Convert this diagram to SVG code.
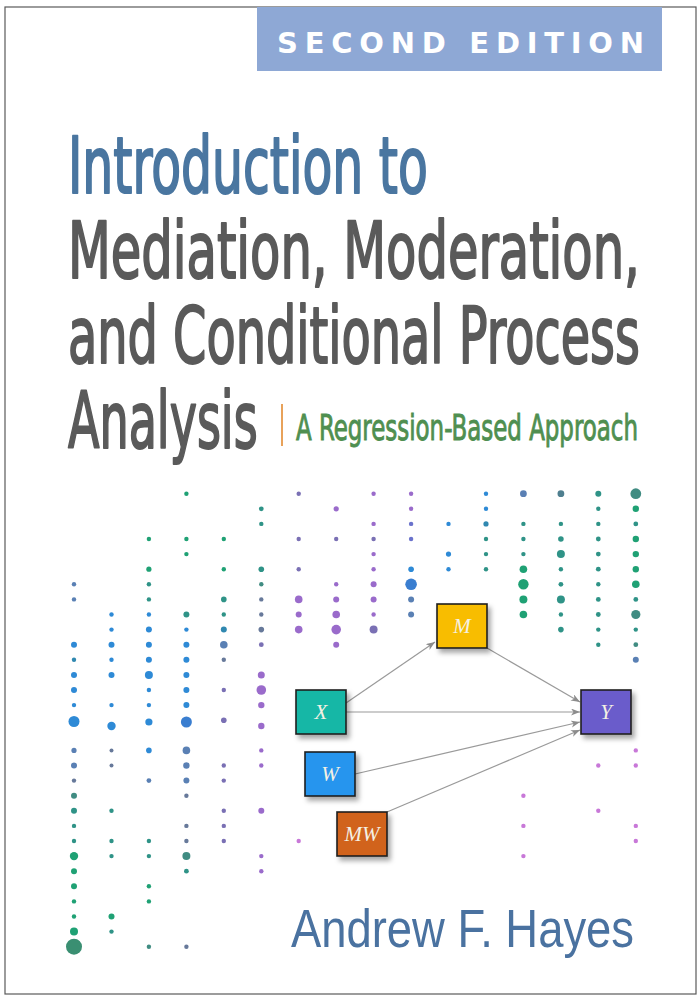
<svg xmlns="http://www.w3.org/2000/svg" width="700" height="999" viewBox="0 0 700 999">
<style>
.ttl{font-family:"DejaVu Sans Condensed","DejaVu Sans",sans-serif;font-stretch:condensed;font-size:79px;stroke-width:2;stroke-linejoin:round;}
.lbl{font-family:"Liberation Serif",serif;font-style:italic;font-size:21px;fill:#f4f1e4;text-anchor:middle;}
.box{stroke:#1e1e1e;stroke-width:1.6;}
.con{stroke:#9a9a9a;stroke-width:1.2;fill:none;marker-end:url(#ah);}
.b{fill:#2e8ad6}.bg{fill:#5a80b4}.g{fill:#67799a}.t{fill:#2f9387}.tb{fill:#3088b0}.gr{fill:#1fa174}
.tg{fill:#408c82}.p{fill:#9a6bcb}.pg{fill:#7a70b4}.pb{fill:#6a72cc}.pk{fill:#c878d8}
</style>
<defs>
<filter id="sh" x="-20%" y="-20%" width="150%" height="150%">
<feDropShadow dx="3" dy="4" stdDeviation="2.5" flood-color="#000" flood-opacity="0.35"/>
</filter>
<marker id="ah" markerUnits="userSpaceOnUse" markerWidth="10" markerHeight="8" refX="9" refY="3.5" orient="auto">
<path d="M0,0 L9,3.5 L0,7 L2.5,3.5 z" fill="#8c8c8c"/>
</marker>
</defs>
<rect x="0" y="0" width="700" height="999" fill="#ffffff"/>
<rect x="5" y="7" width="691" height="987" fill="none" stroke="#5a5a5a" stroke-width="1.2"/>
<g id="banner">
<rect x="257" y="7" width="405" height="64" fill="#8ea8d5"/>
<text x="277" y="53" font-family="DejaVu Sans, sans-serif" font-weight="bold" font-size="29" fill="#ffffff" textLength="367" lengthAdjust="spacing">SECOND EDITION</text>
</g>
<g id="title">
<g transform="scale(0.7,1)">
<text class="ttl" x="97.1" y="193" fill="#4a76a0" stroke="#4a76a0" textLength="514" lengthAdjust="spacingAndGlyphs">Introduction to</text>
<text class="ttl" x="97.1" y="278" fill="#5a5a5a" stroke="#5a5a5a" textLength="817" lengthAdjust="spacingAndGlyphs">Mediation, Moderation,</text>
<text class="ttl" x="97.1" y="363" fill="#5a5a5a" stroke="#5a5a5a" textLength="817" lengthAdjust="spacingAndGlyphs">and Conditional Process</text>
<text class="ttl" x="97.1" y="448" fill="#5a5a5a" stroke="#5a5a5a" textLength="271" lengthAdjust="spacingAndGlyphs">Analysis</text>
</g>
<rect x="281" y="404" width="2" height="42" fill="#e8a25a"/>
<g transform="scale(0.72,1)">
<text x="411.1" y="440" font-family="DejaVu Sans Condensed, DejaVu Sans, sans-serif" font-stretch="condensed" font-size="35" fill="#4f8f50" stroke="#4f8f50" stroke-width="0.9" textLength="475" lengthAdjust="spacingAndGlyphs">A Regression-Based Approach</text>
</g>
</g>
<g id="dots">
<circle class="bg" cx="74" cy="584.3" r="2.2"/><circle class="bg" cx="74" cy="599.4" r="2.2"/><circle class="b" cx="74" cy="644.7" r="3"/><circle class="tb" cx="74" cy="659.8" r="2.2"/><circle class="b" cx="74" cy="674.9" r="3"/><circle class="b" cx="74" cy="690" r="3"/><circle class="b" cx="74" cy="705.1" r="2.2"/><circle class="b" cx="74" cy="721.5" r="5.5"/><circle class="bg" cx="74" cy="750.4" r="2.6"/><circle class="bg" cx="74" cy="765.5" r="3"/><circle class="g" cx="74" cy="780.6" r="2.2"/><circle class="tg" cx="74" cy="795.7" r="3"/><circle class="t" cx="74" cy="810.8" r="3"/><circle class="t" cx="74" cy="825.9" r="2.2"/><circle class="t" cx="74" cy="841" r="2.2"/><circle class="gr" cx="74" cy="856.1" r="4.2"/><circle class="gr" cx="74" cy="871.2" r="3"/><circle class="gr" cx="74" cy="886.3" r="3"/><circle class="gr" cx="74" cy="901.4" r="2.2"/><circle class="gr" cx="74" cy="916.5" r="2.2"/><circle class="gr" cx="74" cy="931.6" r="4"/><circle fill="#3a8f72" cx="74" cy="946.7" r="8"/>
<circle class="b" cx="111.5" cy="614.5" r="2.2"/><circle class="b" cx="111.5" cy="629.6" r="2.2"/><circle class="b" cx="111.5" cy="644.7" r="3"/><circle class="b" cx="111.5" cy="659.8" r="2.2"/><circle class="b" cx="111.5" cy="674.9" r="3"/><circle class="b" cx="111.5" cy="705.1" r="2.2"/><circle class="b" cx="111.5" cy="726" r="4.2"/><circle class="g" cx="111.5" cy="750.4" r="2"/><circle class="g" cx="111.5" cy="765.5" r="2"/><circle class="t" cx="111.5" cy="810.8" r="2.2"/><circle class="t" cx="111.5" cy="841" r="2.2"/><circle class="t" cx="111.5" cy="856.1" r="2.2"/><circle class="gr" cx="111.5" cy="916.5" r="3"/><circle class="t" cx="111.5" cy="931.6" r="2.2"/>
<circle class="gr" cx="148.9" cy="539" r="2.2"/><circle class="gr" cx="148.9" cy="569.2" r="2.6"/><circle class="t" cx="148.9" cy="584.3" r="2.2"/><circle class="t" cx="148.9" cy="599.4" r="2.2"/><circle class="b" cx="148.9" cy="614.5" r="2.2"/><circle class="b" cx="148.9" cy="629.6" r="3"/><circle class="b" cx="148.9" cy="644.7" r="3"/><circle class="b" cx="148.9" cy="659.8" r="3"/><circle class="b" cx="148.9" cy="674.9" r="4"/><circle class="b" cx="148.9" cy="690" r="2.2"/><circle class="b" cx="148.9" cy="705.1" r="2.2"/><circle class="b" cx="148.9" cy="722" r="3.6"/><circle class="b" cx="148.9" cy="750.4" r="2.8"/><circle class="bg" cx="148.9" cy="780.6" r="2.4"/><circle class="t" cx="148.9" cy="841" r="2.2"/><circle class="t" cx="148.9" cy="856.1" r="2.2"/><circle class="gr" cx="148.9" cy="886.3" r="2.2"/><circle class="gr" cx="148.9" cy="901.4" r="2.2"/><circle class="tg" cx="148.9" cy="946.7" r="2.2"/>
<circle class="gr" cx="186.4" cy="493.7" r="2.2"/><circle class="gr" cx="186.4" cy="539" r="2.2"/><circle class="gr" cx="186.4" cy="554.1" r="2.2"/><circle class="t" cx="186.4" cy="614.5" r="3"/><circle class="b" cx="186.4" cy="629.6" r="2.2"/><circle class="b" cx="186.4" cy="644.7" r="3"/><circle class="b" cx="186.4" cy="659.8" r="3"/><circle class="b" cx="186.4" cy="674.9" r="3"/><circle class="b" cx="186.4" cy="690" r="3"/><circle class="b" cx="186.4" cy="705.1" r="3"/><circle fill="#3a7ed0" cx="186.4" cy="722" r="5.5"/><circle class="bg" cx="186.4" cy="750.4" r="3.8"/><circle class="bg" cx="186.4" cy="765.5" r="3.2"/><circle class="bg" cx="186.4" cy="780.6" r="3"/><circle class="g" cx="186.4" cy="795.7" r="2.2"/><circle class="g" cx="186.4" cy="825.9" r="2.2"/><circle class="g" cx="186.4" cy="841" r="2.2"/><circle class="tg" cx="186.4" cy="856.1" r="4"/><circle class="t" cx="186.4" cy="871.2" r="2.4"/><circle class="g" cx="186.4" cy="946.7" r="2.2"/>
<circle class="gr" cx="223.8" cy="539" r="2.2"/><circle class="gr" cx="223.8" cy="569.2" r="2.2"/><circle class="t" cx="223.8" cy="599.4" r="2.8"/><circle class="t" cx="223.8" cy="614.5" r="2.2"/><circle class="tb" cx="223.8" cy="629.6" r="3"/><circle class="bg" cx="223.8" cy="644.7" r="3.8"/><circle class="g" cx="223.8" cy="659.8" r="2.2"/><circle class="pg" cx="223.8" cy="690" r="2.2"/><circle class="pg" cx="223.8" cy="720.2" r="2.8"/><circle class="pg" cx="223.8" cy="765.5" r="2.2"/><circle class="pg" cx="223.8" cy="780.6" r="2.2"/><circle class="pg" cx="223.8" cy="810.8" r="2.2"/><circle class="pg" cx="223.8" cy="825.9" r="2.2"/><circle class="pg" cx="223.8" cy="841" r="2.2"/>
<circle class="t" cx="261.3" cy="508.8" r="2.4"/><circle class="t" cx="261.3" cy="523.9" r="2.2"/><circle class="t" cx="261.3" cy="569.2" r="2.8"/><circle class="tg" cx="261.3" cy="584.3" r="2.2"/><circle class="g" cx="261.3" cy="599.4" r="2.2"/><circle class="g" cx="261.3" cy="614.5" r="2.2"/><circle class="g" cx="261.3" cy="629.6" r="2.8"/><circle class="pg" cx="261.3" cy="644.7" r="2.4"/><circle class="p" cx="261.3" cy="674.9" r="3.5"/><circle class="p" cx="261.3" cy="690" r="4.8"/><circle class="p" cx="261.3" cy="705.1" r="3.2"/><circle class="p" cx="261.3" cy="726" r="3.2"/><circle class="p" cx="261.3" cy="750.4" r="2.2"/><circle class="p" cx="261.3" cy="765.5" r="2.2"/><circle class="p" cx="261.3" cy="810.8" r="3"/><circle class="p" cx="261.3" cy="856.1" r="2.2"/><circle class="p" cx="261.3" cy="871.2" r="2.2"/>
<circle class="pg" cx="298.7" cy="493.7" r="2.2"/><circle class="pg" cx="298.7" cy="539" r="2.2"/><circle class="pg" cx="298.7" cy="569.2" r="2.2"/><circle class="p" cx="298.7" cy="599.4" r="3.8"/><circle class="p" cx="298.7" cy="614.5" r="3"/><circle class="p" cx="298.7" cy="629.6" r="3.8"/><circle class="pk" cx="298.7" cy="841" r="2.2"/>
<circle class="p" cx="336.2" cy="508.8" r="2.6"/><circle class="pg" cx="336.2" cy="539" r="2.2"/><circle class="p" cx="336.2" cy="584.3" r="2.2"/><circle class="p" cx="336.2" cy="599.4" r="3"/><circle class="p" cx="336.2" cy="614.5" r="3.8"/><circle class="p" cx="336.2" cy="629.6" r="4.8"/><circle class="p" cx="336.2" cy="644.7" r="3"/>
<circle class="p" cx="373.6" cy="493.7" r="2.2"/><circle class="p" cx="373.6" cy="523.9" r="2.2"/><circle class="pg" cx="373.6" cy="539" r="2.2"/><circle class="p" cx="373.6" cy="554.1" r="2.2"/><circle class="p" cx="373.6" cy="569.2" r="2.2"/><circle class="p" cx="373.6" cy="584.3" r="3"/><circle class="p" cx="373.6" cy="599.4" r="3"/><circle class="p" cx="373.6" cy="614.5" r="2.2"/><circle class="pg" cx="373.6" cy="629.6" r="4"/>
<circle class="p" cx="411.1" cy="493.7" r="2.2"/><circle class="p" cx="411.1" cy="508.8" r="2.2"/><circle class="pb" cx="411.1" cy="523.9" r="2.2"/><circle class="pb" cx="411.1" cy="539" r="2.2"/><circle class="b" cx="411.1" cy="569.2" r="2.8"/><circle fill="#3a7ed0" cx="411.1" cy="584.3" r="5.8"/><circle class="bg" cx="411.1" cy="599.4" r="3"/><circle class="bg" cx="411.1" cy="614.5" r="3"/>
<circle class="b" cx="448.5" cy="523.9" r="2.2"/><circle class="b" cx="448.5" cy="554.1" r="2.6"/><circle class="b" cx="448.5" cy="569.2" r="2.2"/>
<circle class="b" cx="486" cy="493.7" r="2.2"/><circle class="b" cx="486" cy="508.8" r="2.2"/><circle class="tb" cx="486" cy="523.9" r="2.6"/><circle class="t" cx="486" cy="539" r="2.2"/><circle class="t" cx="486" cy="554.1" r="2.2"/><circle class="t" cx="486" cy="569.2" r="2.2"/>
<circle class="bg" cx="523.4" cy="493.7" r="3.4"/><circle class="t" cx="523.4" cy="523.9" r="2.2"/><circle class="t" cx="523.4" cy="539" r="2.2"/><circle class="t" cx="523.4" cy="554.1" r="2.2"/><circle class="gr" cx="523.4" cy="569.2" r="3.8"/><circle class="gr" cx="523.4" cy="584.3" r="5.2"/><circle class="gr" cx="523.4" cy="599.4" r="4"/><circle class="gr" cx="523.4" cy="614.5" r="3.8"/><circle class="pk" cx="523.4" cy="795.7" r="2.2"/><circle class="pk" cx="523.4" cy="825.9" r="2.2"/><circle class="pk" cx="523.4" cy="856.1" r="2.2"/>
<circle fill="#4f7f8f" cx="560.9" cy="493.7" r="3.4"/><circle class="t" cx="560.9" cy="523.9" r="2.2"/><circle class="t" cx="560.9" cy="539" r="2.8"/><circle class="t" cx="560.9" cy="554.1" r="4"/><circle class="t" cx="560.9" cy="569.2" r="2.2"/><circle class="t" cx="560.9" cy="584.3" r="2.4"/><circle class="t" cx="560.9" cy="599.4" r="4"/><circle class="t" cx="560.9" cy="614.5" r="2.2"/><circle class="t" cx="560.9" cy="629.6" r="2.8"/>
<circle class="t" cx="598.3" cy="493.7" r="3"/><circle class="t" cx="598.3" cy="508.8" r="2.2"/><circle class="t" cx="598.3" cy="523.9" r="2.2"/><circle class="t" cx="598.3" cy="539" r="2.4"/><circle class="t" cx="598.3" cy="554.1" r="2.4"/><circle class="t" cx="598.3" cy="569.2" r="2.4"/><circle class="t" cx="598.3" cy="584.3" r="2.2"/><circle class="t" cx="598.3" cy="599.4" r="2.4"/><circle class="t" cx="598.3" cy="614.5" r="2.4"/><circle class="t" cx="598.3" cy="629.6" r="2.2"/><circle class="t" cx="598.3" cy="644.7" r="2.2"/><circle class="pk" cx="598.3" cy="765.5" r="2.2"/><circle class="pk" cx="598.3" cy="810.8" r="2.2"/>
<circle class="tg" cx="635.8" cy="493.7" r="5.4"/><circle class="gr" cx="635.8" cy="508.8" r="3.2"/><circle class="t" cx="635.8" cy="523.9" r="2.4"/><circle class="gr" cx="635.8" cy="539" r="3.2"/><circle class="gr" cx="635.8" cy="554.1" r="3.2"/><circle class="gr" cx="635.8" cy="569.2" r="3.2"/><circle class="gr" cx="635.8" cy="584.3" r="3.8"/><circle class="t" cx="635.8" cy="599.4" r="2.4"/><circle class="tg" cx="635.8" cy="614.5" r="4.6"/><circle class="t" cx="635.8" cy="629.6" r="2.2"/><circle class="tg" cx="635.8" cy="644.7" r="2.4"/><circle class="bg" cx="635.8" cy="659.8" r="3"/><circle class="pk" cx="635.8" cy="750.4" r="2.2"/><circle class="pk" cx="635.8" cy="765.5" r="2.2"/><circle class="pk" cx="635.8" cy="825.9" r="2.2"/><circle class="pk" cx="635.8" cy="841" r="2.2"/>
</g>
<g id="connectors">
<line class="con" x1="346" y1="703" x2="435" y2="642"/>
<line class="con" x1="487" y1="648" x2="580" y2="702"/>
<line class="con" x1="346" y1="712" x2="580" y2="712"/>
<line class="con" x1="355" y1="774" x2="580" y2="722"/>
<line class="con" x1="387" y1="812" x2="580" y2="730"/>
</g>
<g id="node-M">
<rect class="box" x="437" y="604" width="50" height="44" fill="#f8bd00" filter="url(#sh)"/>
<text class="lbl" x="462" y="633">M</text>
</g>
<g id="node-X">
<rect class="box" x="296" y="690" width="50" height="44" fill="#17b7a6" filter="url(#sh)"/>
<text class="lbl" x="321" y="719">X</text>
</g>
<g id="node-Y">
<rect class="box" x="581" y="690" width="50" height="44" fill="#6a5bcb" filter="url(#sh)"/>
<text class="lbl" x="606" y="719">Y</text>
</g>
<g id="node-W">
<rect class="box" x="305" y="752" width="50" height="44" fill="#2595ee" filter="url(#sh)"/>
<text class="lbl" x="330" y="781">W</text>
</g>
<g id="node-MW">
<rect class="box" x="337" y="812" width="50" height="44" fill="#d1631f" filter="url(#sh)"/>
<text class="lbl" x="362" y="841">MW</text>
</g>
<g id="author">
<text x="291" y="947" font-family="Liberation Sans, sans-serif" font-size="53" fill="#4a72a0" textLength="343" lengthAdjust="spacingAndGlyphs">Andrew F. Hayes</text>
</g>
</svg>
